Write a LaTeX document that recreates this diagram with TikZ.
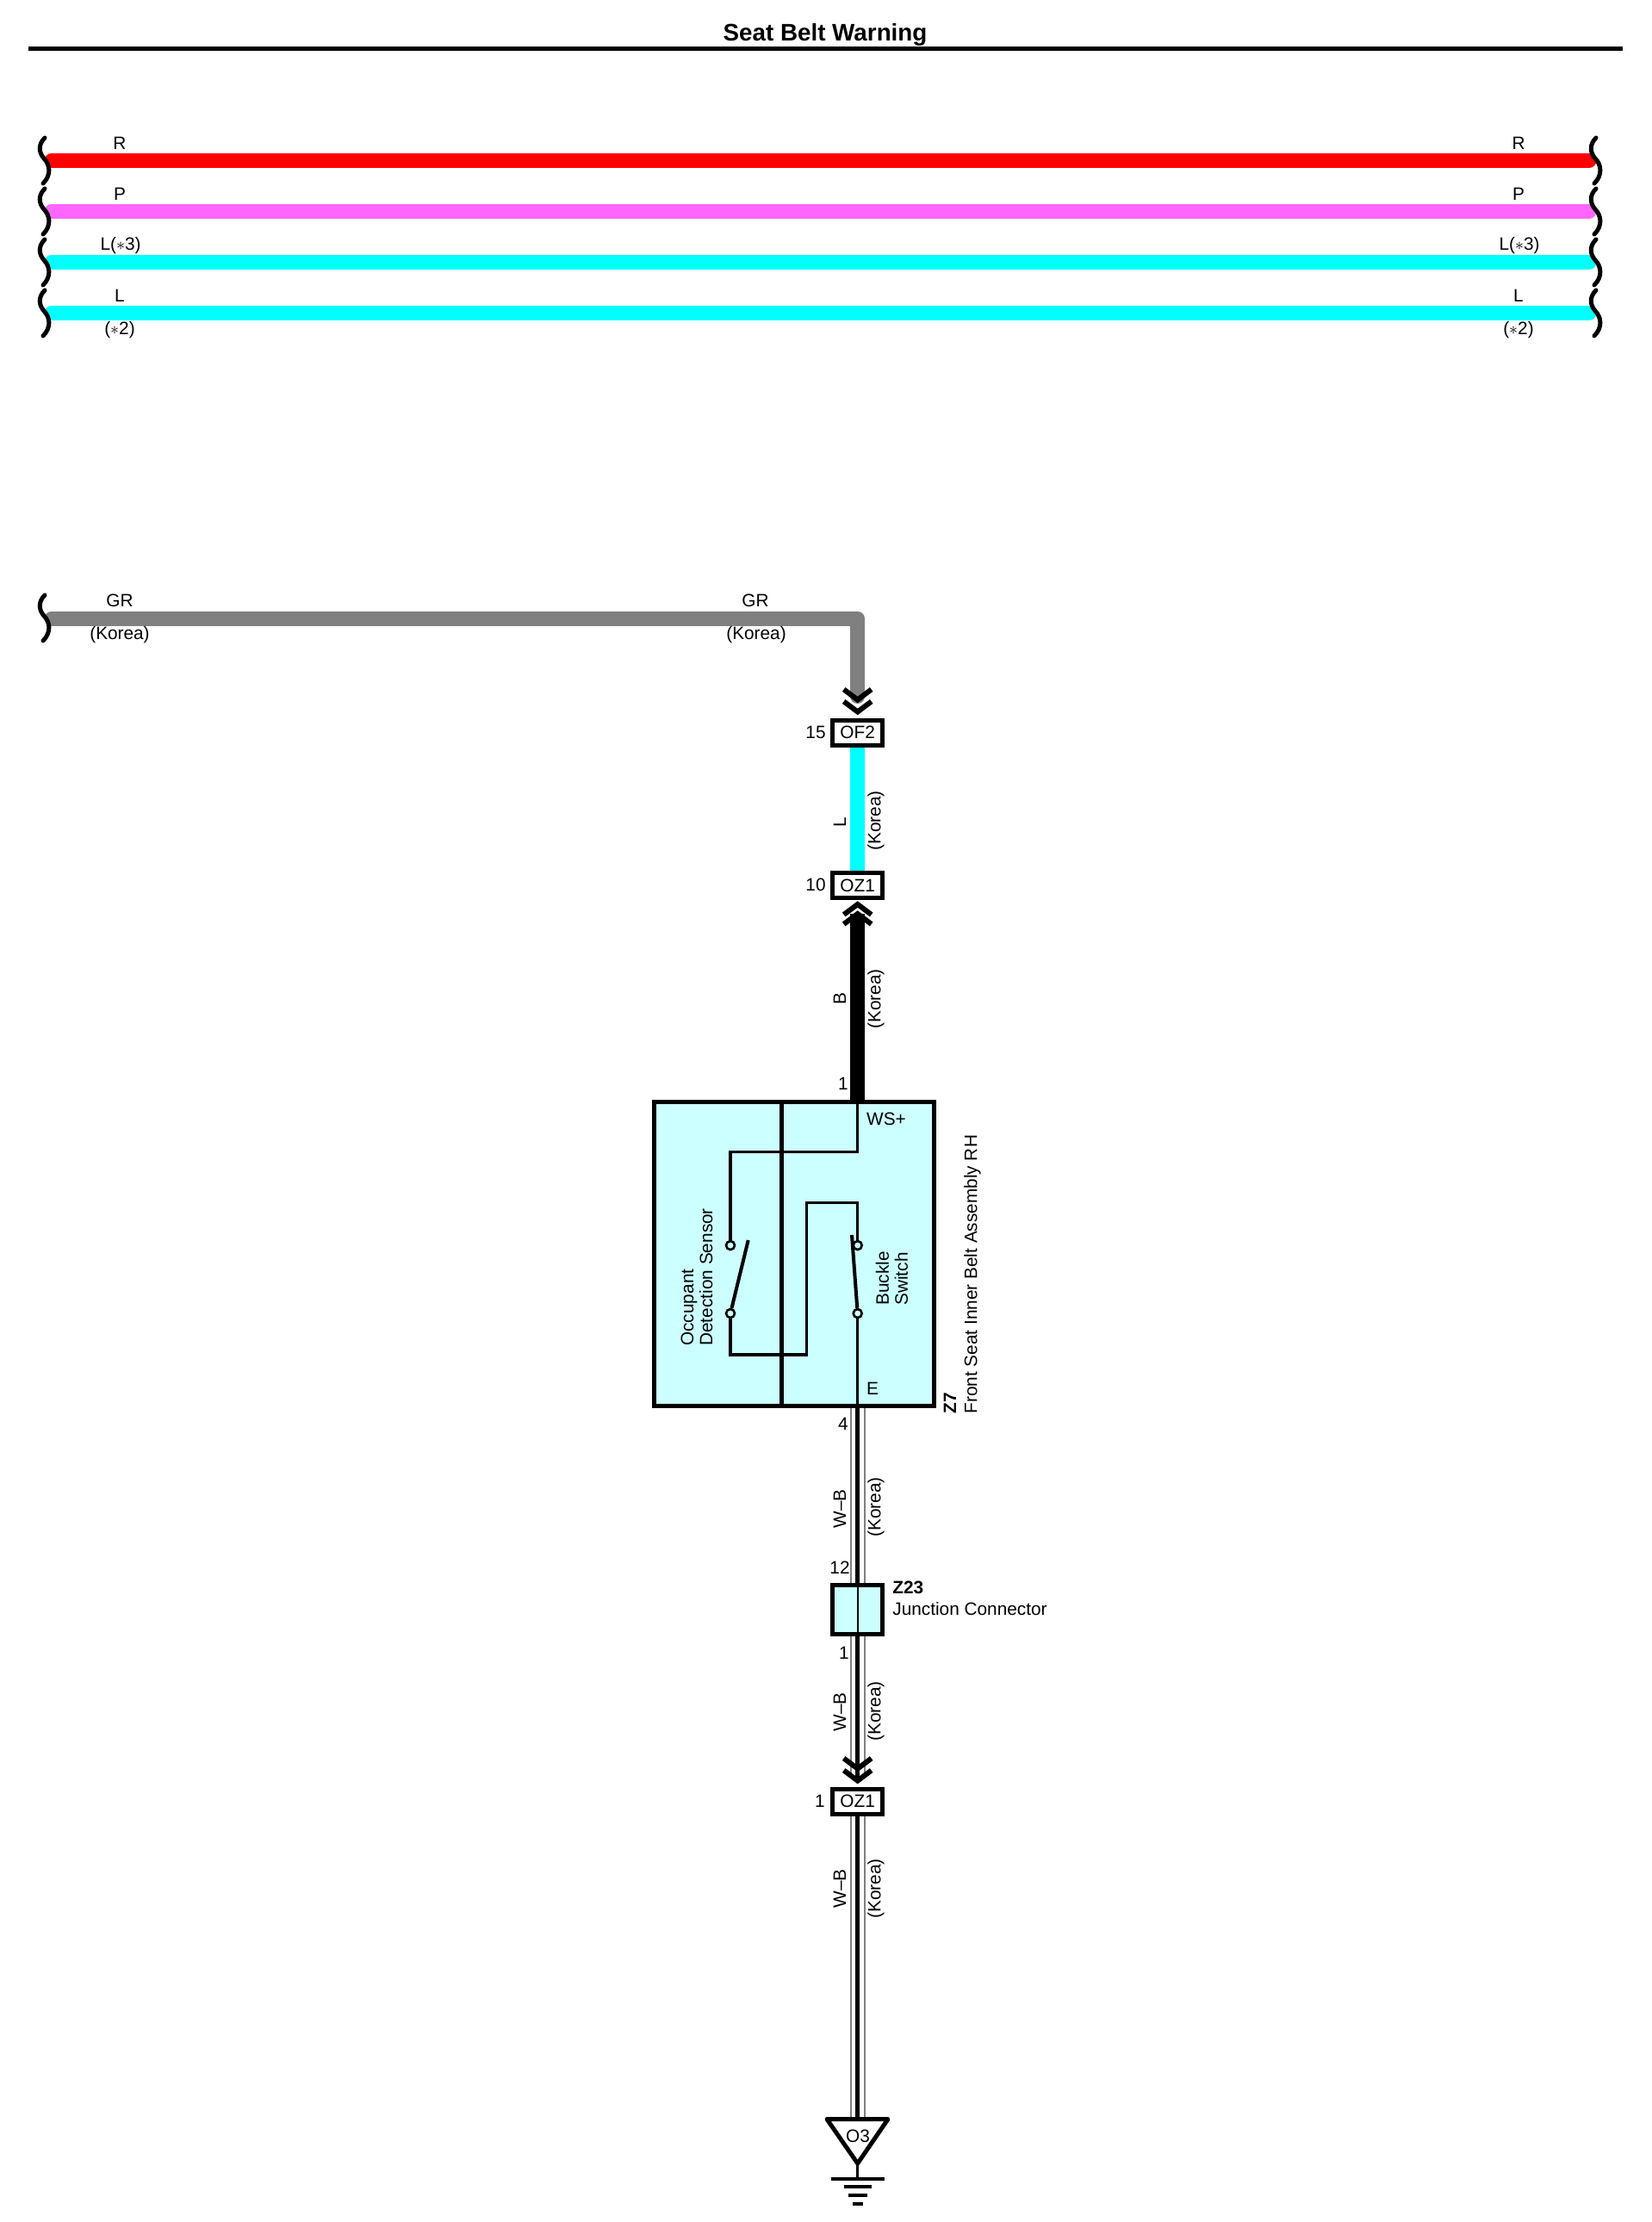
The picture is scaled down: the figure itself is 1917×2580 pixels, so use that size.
\documentclass[tikz,border=0pt]{standalone}
\usepackage{fontspec}
\setmainfont{Liberation Sans}
\usepackage{tikz}
\usetikzlibrary{calc}
\definecolor{wirepink}{HTML}{FF66FF}
\definecolor{wirecyan}{HTML}{00FFFF}
\definecolor{wiregray}{HTML}{808080}
\definecolor{boxcyan}{HTML}{CCFFFF}
\tikzstyle{title} = [font=\fontsize{13.9}{15}\selectfont\bfseries, inner sep=0pt]
\tikzstyle{txt} = [font=\fontsize{10.4}{11}\selectfont, inner sep=0pt]
\tikzstyle{txtbold} = [font=\fontsize{10.4}{11}\selectfont\bfseries, inner sep=0pt]
\tikzstyle{wire} = [line width=8.5pt, line cap=round, line join=round]
\tikzstyle{inwire} = [line width=1.6pt, line join=miter]
\tikzstyle{arm} = [line width=2pt]
\tikzstyle{breakmark} = [line width=2.5pt, line cap=round]
\tikzstyle{chevron} = [line width=3pt]
\tikzstyle{conn} = [rectangle, draw=black, fill=white, line width=2.5pt, minimum width=29pt, minimum height=14.5pt, inner sep=0pt, font=\fontsize{10.4}{11}\selectfont]
\tikzstyle{unit} = [rectangle, draw=black, fill=boxcyan, line width=2.5pt, inner sep=0pt]
\tikzstyle{contact} = [circle, draw=black, fill=boxcyan, line width=1.3pt, minimum size=5pt, inner sep=0pt]
\newcommand{\breakat}[2]{\draw [breakmark] (#1+0,#2+0) .. controls (#1-8,#2+8) and (#1-7,#2+17) .. (#1-1,#2+24) .. controls (#1+6,#2+31) and (#1+8,#2+43) .. (#1-2,#2+53);}
\newcommand{\chevdown}[1]{\draw [chevron] (#1) ++(-16,-33) -- ++(16,12) -- ++(16,-12);
\draw [chevron] (#1) ++(-16,-19) -- ++(16,12) -- ++(16,-12);}
\newcommand{\chevup}[1]{\draw [chevron] (#1) ++(-16,17) -- ++(16,-12) -- ++(16,12);
\draw [chevron] (#1) ++(-16,28) -- ++(16,-12) -- ++(16,12);}
\newcommand{\wbwire}[2]{\draw [line width=0.8pt, wiregray] ([xshift=-4pt]#1) -- ([xshift=-4pt]#2);
\draw [line width=0.8pt, wiregray] ([xshift=4pt]#1) -- ([xshift=4pt]#2);
\draw [line width=2.4pt] (#1) -- (#2);}

\begin{document}
\begin{tikzpicture}[x=0.5pt, y=-0.5pt]
\useasboundingbox (0,0) rectangle (1917,2580);
\node (heading) [title] at (958,40) {Seat Belt Warning};
\coordinate (ruleleft) at (33,56.5);
\coordinate (ruleright) at (1884,56.5);
\draw [line width=2.5pt] (ruleleft) -- (ruleright);
% top wires
\coordinate (rleft) at (60,186.5);
\coordinate (rright) at (1845,186.5);
\coordinate (pleft) at (60,245.5);
\coordinate (pright) at (1845,245.5);
\coordinate (lthreeleft) at (60,304.5);
\coordinate (lthreeright) at (1845,304.5);
\coordinate (ltwoleft) at (60,363.5);
\coordinate (ltworight) at (1845,363.5);
\draw [wire, red] (rleft) -- (rright);
\draw [wire, wirepink] (pleft) -- (pright);
\draw [wire, wirecyan] (lthreeleft) -- (lthreeright);
\draw [wire, wirecyan] (ltwoleft) -- (ltworight);
\breakat{52}{160}
\breakat{52}{219}
\breakat{52}{278}
\breakat{52}{337}
\breakat{1853}{160}
\breakat{1853}{219}
\breakat{1853}{278}
\breakat{1853}{337}
\node (rtxt) [txt] at (139,166) {R};
\node (ptxt) [txt] at (139,225) {P};
\node (lthreetxt) [txt] at (140,285) {L($\ast$3)};
\node (ltxt) [txt] at (139,343) {L};
\node (ltwotxt) [txt] at (139,383) {($\ast$2)};
\node (rtxtb) [txt] at (1763,166) {R};
\node (ptxtb) [txt] at (1763,225) {P};
\node (lthreetxtb) [txt] at (1764,285) {L($\ast$3)};
\node (ltxtb) [txt] at (1763,343) {L};
\node (ltwotxtb) [txt] at (1763,383) {($\ast$2)};
% connectors down the middle
\node (of2) [conn] at (995.7,850.5) {OF2};
\node (oz1) [conn, below of=of2, node distance=88.75pt] {OZ1};
\node (z23) [conn, fill=boxcyan, minimum height=28.5pt, below of=oz1, node distance=420.5pt] {};
\node (oz1b) [conn, below of=z23, node distance=111.3pt] {OZ1};
\node (z7) [unit, minimum width=162.5pt, minimum height=176.5pt] at (922,1456) {};
% grey wire
\coordinate (grleft) at (60,718);
\coordinate (grcorner) at (995.7,718);
\coordinate (grend) at ($(of2.north)+(0,-25)$);
\draw [wire, wiregray] (grleft) -- (grcorner) -- (grend);
\breakat{52}{691}
\chevdown{of2.north}
\node (grtxt) [txt] at (139,697) {GR};
\node (kotxt) [txt] at (139,737) {(Korea)};
\node (grtxtb) [txt] at (877,697) {GR};
\node (kotxtb) [txt] at (878,737) {(Korea)};
\node (pin15) [txt] at (947,850) {15};
% cyan and black wires
\draw [line width=8.5pt, wirecyan] (of2.south) -- (oz1.north);
\draw [line width=8.5pt] ($(oz1.south)+(0,16)$) -- (oz1.south |- z7.north);
\chevup{oz1.south}
\node (ltxtc) [txt, rotate=90] at (975,955) {L};
\node (kotxtc) [txt, rotate=90] at (1017,953) {(Korea)};
\node (pin10) [txt] at (947,1027) {10};
\node (btxt) [txt, rotate=90] at (975,1160) {B};
\node (kotxtd) [txt, rotate=90] at (1017,1160) {(Korea)};
\node (pin1) [txt] at (979,1258) {1};
% inside the assembly
\coordinate (z7div) at (907.7,1456);
\draw [line width=2.5pt] (z7div |- z7.north) -- (z7div |- z7.south);
\node (odsup) [contact] at (848,1446) {};
\node (odslow) [contact] at (848,1525) {};
\node (bswup) [contact] at (995.7,1446) {};
\node (bswlow) [contact] at (995.7,1525) {};
\coordinate (wsfold) at (995.7,1337.7);
\coordinate (lowfold) at (936.7,1573);
\coordinate (upfold) at (936.7,1396.7);
\draw [inwire] (oz1.south |- z7.north) -- (wsfold) -| (odsup);
\draw [inwire] (odslow) |- (lowfold) -- (upfold) -| (bswup);
\draw [inwire] (bswlow) -- (bswlow |- z7.south);
\coordinate (odsarm) at (868.7,1440);
\coordinate (bswarm) at (989,1434);
\draw [arm] (odslow) -- (odsarm);
\draw [arm] (bswlow) -- (bswarm);
\node (wstxt) [txt] at (1029,1299) {WS+};
\node (etxt) [txt] at (1013,1612) {E};
\node (odstxt) [txt, rotate=90, anchor=west, align=left] at (809,1563) {Occupant\\Detection Sensor};
\node (bswtxt) [txt, rotate=90, anchor=west, align=left] at (1035.5,1516) {Buckle\\Switch};
\node (z7txt) [txtbold, rotate=90, anchor=west] at (1103,1642) {Z7};
\node (z7name) [txt, rotate=90, anchor=west] at (1129,1642) {Front Seat Inner Belt Assembly RH};
\node (pin4) [txt] at (979,1653) {4};
% white-black wires
\wbwire{oz1.south |- z7.south}{z23.north}
\draw [line width=1pt] (z23.north) -- (z23.south);
\coordinate (wbend) at ($(oz1b.north)+(0,-10)$);
\wbwire{z23.south}{wbend}
\chevdown{oz1b.north}
\coordinate (gndtop) at (995.7,2460);
\wbwire{oz1b.south}{gndtop}
\node (wbtxta) [txt, rotate=90] at (975,1752) {W--B};
\node (kotxte) [txt, rotate=90] at (1017,1750) {(Korea)};
\node (pin12) [txt] at (975,1820) {12};
\node (z23txt) [txtbold, anchor=west] at (1036,1843) {Z23};
\node (z23name) [txt, anchor=west] at (1036,1868) {Junction Connector};
\node (pin1b) [txt] at (980,1919) {1};
\node (wbtxtb) [txt, rotate=90] at (975,1988) {W--B};
\node (kotxtf) [txt, rotate=90] at (1017,1987) {(Korea)};
\node (pin1c) [txt] at (952,2091) {1};
\node (wbtxtc) [txt, rotate=90] at (975,2193) {W--B};
\node (kotxtg) [txt, rotate=90] at (1017,2193) {(Korea)};
% ground
\coordinate (gndtip) at (995.7,2512);
\coordinate (gndbar) at (995.7,2530);
\draw [line width=2.5pt, line join=round] (960,2460.5) -- (1031,2460.5) -- (gndtip) -- cycle;
\node (o3) [txt] at (996,2480) {O3};
\draw [line width=1.6pt] (gndtip) -- (gndbar);
\draw [line width=1.6pt] (965,2530) -- (1027,2530);
\draw [line width=1.6pt] (980,2539) -- (1012,2539);
\draw [line width=1.6pt] (985,2549) -- (1007,2549);
\draw [line width=1.6pt] (990,2559) -- (1002,2559);
\end{tikzpicture}
\end{document}
